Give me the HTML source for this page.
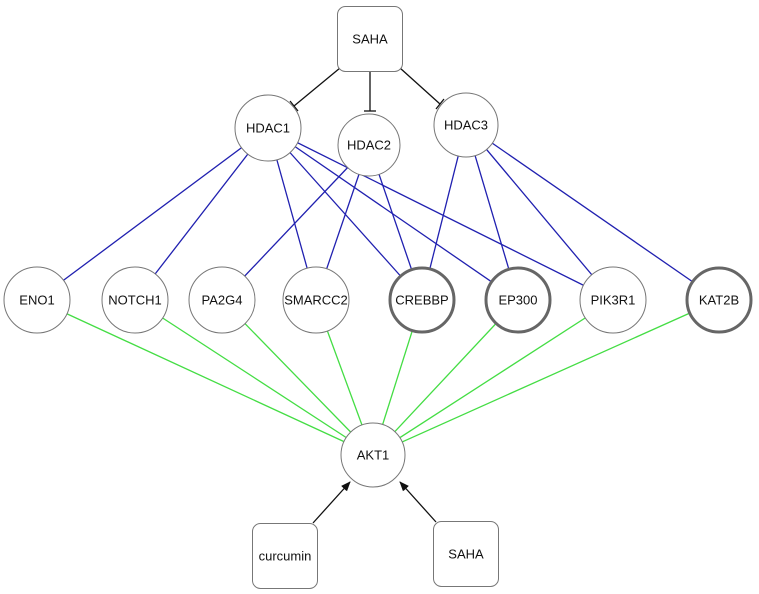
<!DOCTYPE html>
<html><head><style>body{margin:0;background:#fff}svg{display:block}text{font-family:"Liberation Sans",sans-serif;font-size:13px;text-anchor:middle;dominant-baseline:central;fill:#111}</style></head><body>
<svg width="759" height="594" viewBox="0 0 759 594">
<defs><marker id="a" markerWidth="10" markerHeight="10" refX="9" refY="5" orient="auto" markerUnits="userSpaceOnUse"><path d="M0,1 L10,5 L0,9 Z" fill="#111"/></marker></defs>
<g stroke="#2020b0" stroke-width="1.3">
<line x1="268" y1="128" x2="37" y2="300"/><line x1="268" y1="128" x2="135" y2="300"/><line x1="268" y1="128" x2="316" y2="300"/><line x1="268" y1="128" x2="422" y2="300"/><line x1="268" y1="128" x2="518" y2="300"/><line x1="268" y1="128" x2="613" y2="300"/>
<line x1="369" y1="145" x2="222" y2="300"/><line x1="369" y1="145" x2="316" y2="300"/><line x1="369" y1="145" x2="422" y2="300"/>
<line x1="466" y1="125" x2="422" y2="300"/><line x1="466" y1="125" x2="518" y2="300"/><line x1="466" y1="125" x2="613" y2="300"/><line x1="466" y1="125" x2="719" y2="300"/>
</g>
<g stroke="#44dd44" stroke-width="1.3">
<line x1="37" y1="300" x2="373" y2="455"/><line x1="135" y1="300" x2="373" y2="455"/><line x1="222" y1="300" x2="373" y2="455"/><line x1="316" y1="300" x2="373" y2="455"/><line x1="422" y1="300" x2="373" y2="455"/><line x1="518" y1="300" x2="373" y2="455"/><line x1="613" y1="300" x2="373" y2="455"/><line x1="719" y1="300" x2="373" y2="455"/>
</g>
<g stroke="#111" stroke-width="1.3">
<line x1="340" y1="68" x2="294" y2="106"/><line x1="290" y1="101" x2="298" y2="111"/>
<line x1="370" y1="72" x2="370" y2="111"/><line x1="364" y1="111" x2="376" y2="111"/>
<line x1="400" y1="68" x2="440" y2="104"/><line x1="436" y1="109" x2="444" y2="99"/>
<line x1="313" y1="523" x2="350" y2="482" marker-end="url(#a)"/>
<line x1="436" y1="522" x2="400" y2="482" marker-end="url(#a)"/>
</g>
<g fill="#fff" stroke="#777" stroke-width="1">
<rect x="337.5" y="6.5" width="65" height="65" rx="8"/>
<rect x="252.5" y="523.5" width="65" height="65" rx="8"/>
<rect x="433.5" y="521.5" width="65" height="65" rx="8"/>
<circle cx="268" cy="128" r="33"/><circle cx="369" cy="145" r="31"/><circle cx="466" cy="125" r="32"/>
<circle cx="37" cy="300" r="33"/><circle cx="135" cy="300" r="33"/><circle cx="222" cy="300" r="33"/><circle cx="316" cy="300" r="33"/><circle cx="613" cy="300" r="33"/>
<circle cx="373" cy="455" r="32"/>
</g>
<g fill="#fff" stroke="#666" stroke-width="3">
<circle cx="422" cy="300" r="32"/><circle cx="518" cy="300" r="32"/><circle cx="719" cy="300" r="32"/>
</g>
<text x="370" y="39">SAHA</text><text x="285" y="556">curcumin</text><text x="466" y="554">SAHA</text>
<text x="268" y="128">HDAC1</text><text x="369" y="145">HDAC2</text><text x="466" y="125">HDAC3</text>
<text x="37" y="300">ENO1</text><text x="135" y="300">NOTCH1</text><text x="222" y="300">PA2G4</text><text x="316" y="300">SMARCC2</text><text x="422" y="300">CREBBP</text><text x="518" y="300">EP300</text><text x="613" y="300">PIK3R1</text><text x="719" y="300">KAT2B</text>
<text x="373" y="455">AKT1</text>
</svg>
</body></html>
